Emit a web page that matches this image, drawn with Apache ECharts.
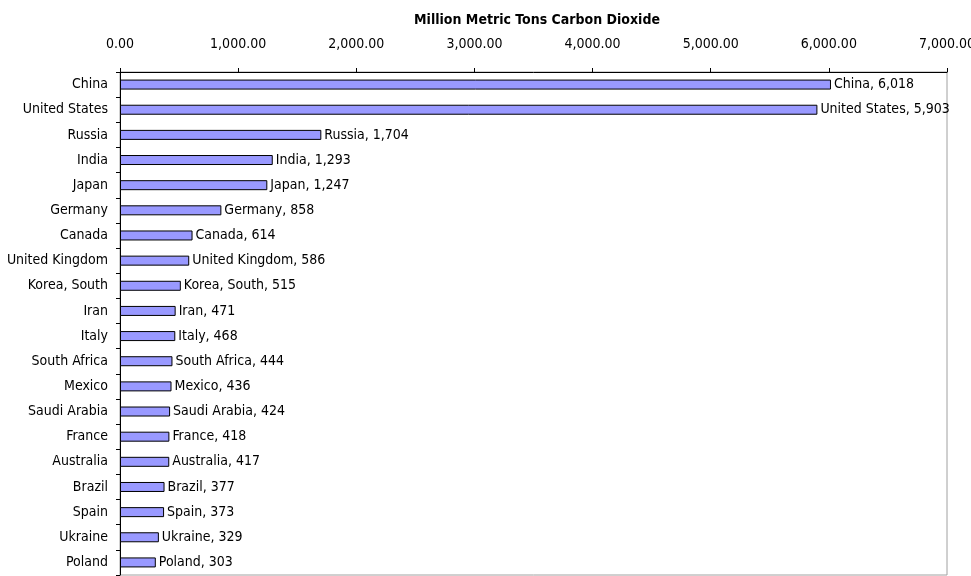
<!DOCTYPE html>
<html>
<head>
<meta charset="utf-8">
<script src="https://cdn.jsdelivr.net/npm/echarts@6/dist/echarts.min.js"></script>
<style>html,body{margin:0;padding:0;background:#fff}#c{width:971px;height:576px}</style>
</head>
<body>
<div id="c"></div>
<script>
const countries = ["China","United States","Russia","India","Japan","Germany","Canada","United Kingdom","Korea, South","Iran","Italy","South Africa","Mexico","Saudi Arabia","France","Australia","Brazil","Spain","Ukraine","Poland"];
const emissions = [6018,5903,1704,1293,1247,858,614,586,515,471,468,444,436,424,418,417,377,373,329,303];
const axisTicks = [0,1000,2000,3000,4000,5000,6000,7000];
const titleText = "Million Metric Tons Carbon Dioxide";

const FONT = '"DejaVu Sans Condensed", "Liberation Sans Narrow", "Arial Narrow", "Liberation Sans", Arial, sans-serif';
const chart = echarts.init(document.getElementById('c'), null, {renderer:'canvas'});
chart.setOption({
  animation:false,
  title:{text:titleText,left:532,textAlign:'center',top:8,textStyle:{fontFamily:FONT,fontSize:14,fontWeight:'bold',color:'#000'}},
  grid:{left:120,top:72,right:24,bottom:1,outerBoundsMode:'none',containLabel:false,show:true,borderColor:'#a0a0a0',borderWidth:1,backgroundColor:'transparent'},
  xAxis:{type:'value',position:'top',min:axisTicks[0],max:axisTicks[axisTicks.length-1],interval:1000,
    axisLine:{show:true,lineStyle:{color:'#000',width:1}},
    axisTick:{show:true,inside:false,length:4,lineStyle:{color:'#000'}},
    splitLine:{show:false},
    axisLabel:{margin:21,fontFamily:FONT,fontSize:14,color:'#000',
      formatter:v=>v.toLocaleString('en-US',{minimumFractionDigits:2,maximumFractionDigits:2})}},
  yAxis:{type:'category',data:countries,inverse:true,
    axisLine:{show:true,lineStyle:{color:'#000',width:1}},
    axisTick:{show:true,length:4,lineStyle:{color:'#000'}},
    axisLabel:{margin:12,fontFamily:FONT,fontSize:14,color:'#000'}},
  series:[{type:'bar',data:emissions,barWidth:10,
    itemStyle:{color:'#9999ff',borderColor:'#000',borderWidth:1},
    label:{show:true,position:'right',distance:3,fontFamily:FONT,fontSize:14,color:'#000',
      formatter:p=>p.name+', '+p.value.toLocaleString('en-US')}}]
});
</script>
</body>
</html>
